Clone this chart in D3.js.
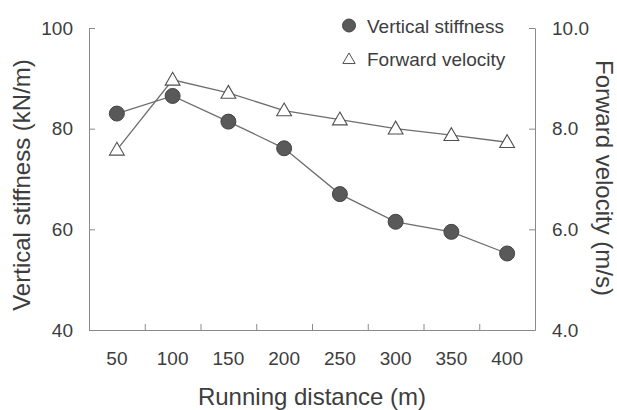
<!DOCTYPE html>
<html>
<head>
<meta charset="utf-8">
<script src="https://cdn.jsdelivr.net/npm/d3@7"></script>
<style>
  body { margin: 0; background: #fff; }
  svg text { font-family: 'Liberation Sans', Arial, sans-serif; fill: #3d3d3d; }
</style>
</head>
<body>
<div id="chart"></div>
<script>
const distances = ['50', '100', '150', '200', '250', '300', '350', '400'];
const stiffness = [83.0, 86.5, 81.4, 76.1, 67.0, 61.5, 59.5, 55.2];
const velocity = [7.58, 8.97, 8.71, 8.36, 8.18, 8.0, 7.87, 7.73];
const leftTicks = [40, 60, 80, 100];
const rightTicks = [4, 6, 8, 10];

const W = 617;
const H = 410;
const margin = { top: 28, right: 82, bottom: 80, left: 89 };
const width = W - margin.left - margin.right;
const height = H - margin.top - margin.bottom;
const axisColor = '#8a8a8a';

const svg = d3.select('#chart').append('svg')
  .attr('width', W)
  .attr('height', H);

const g = svg.append('g')
  .attr('transform', `translate(${margin.left},${margin.top})`);

const x = d3.scaleBand().domain(distances).range([0, width]);
const yL = d3.scaleLinear().domain([40, 100]).range([height, 0]);
const yR = d3.scaleLinear().domain([4, 10]).range([height, 0]);
const xc = d => x(d) + x.bandwidth() / 2;

// left axis
const left = g.append('g')
  .call(d3.axisLeft(yL).tickValues(leftTicks).tickSize(-6).tickSizeOuter(0).tickPadding(16));
// right axis
const right = g.append('g')
  .attr('transform', `translate(${width},0)`)
  .call(d3.axisRight(yR).tickValues(rightTicks).tickSize(-6).tickSizeOuter(0)
    .tickPadding(17).tickFormat(d3.format('.1f')));
// bottom axis labels
const bottom = g.append('g')
  .attr('transform', `translate(0,${height})`)
  .call(d3.axisBottom(x).tickSize(0).tickPadding(22));
// bottom ticks at band boundaries
const bounds = d3.scaleLinear().domain([0, distances.length]).range([0, width]);
const bticks = g.append('g')
  .attr('transform', `translate(0,${height})`)
  .call(d3.axisBottom(bounds).tickValues(d3.range(1, distances.length)).tickSize(-6)
    .tickSizeOuter(0).tickFormat(''));
bticks.select('.domain').remove();

[left, right, bottom, bticks].forEach((a) => {
  a.selectAll('.domain, line').attr('stroke', axisColor);
  a.selectAll('text')
    .style('font-size', '19px')
    .attr('fill', '#3d3d3d');
});

// stiffness series
const lineL = d3.line().x((d, i) => xc(distances[i])).y(d => yL(d));
g.append('path')
  .datum(stiffness)
  .attr('d', lineL)
  .attr('fill', 'none')
  .attr('stroke', '#6e6e6e')
  .attr('stroke-width', 1.3);

g.selectAll('.dot')
  .data(stiffness)
  .enter().append('circle')
  .attr('class', 'dot')
  .attr('cx', (d, i) => xc(distances[i]))
  .attr('cy', d => yL(d))
  .attr('r', 7.5)
  .attr('fill', '#595959')
  .attr('stroke', '#444')
  .attr('stroke-width', 1);

// velocity series
const lineR = d3.line().x((d, i) => xc(distances[i])).y(d => yR(d));
g.append('path')
  .datum(velocity)
  .attr('d', lineR)
  .attr('fill', 'none')
  .attr('stroke', '#6e6e6e')
  .attr('stroke-width', 1.3);

const tri = d3.symbol().type(d3.symbolTriangle).size(95);
g.selectAll('.tri')
  .data(velocity)
  .enter().append('path')
  .attr('class', 'tri')
  .attr('d', tri)
  .attr('transform', (d, i) => `translate(${xc(distances[i])},${yR(d) + 1})`)
  .attr('fill', '#fff')
  .attr('stroke', '#505050')
  .attr('stroke-width', 1.1);

// legend
const legend = svg.append('g').attr('transform', 'translate(349,0)');
legend.append('circle')
  .attr('cx', 0).attr('cy', 25.5).attr('r', 6.5)
  .attr('fill', '#595959').attr('stroke', '#444');
legend.append('path')
  .attr('d', d3.symbol().type(d3.symbolTriangle).size(65))
  .attr('transform', 'translate(0,60)')
  .attr('fill', '#fff').attr('stroke', '#505050').attr('stroke-width', 1);
legend.append('text').attr('x', 18).attr('y', 33).style('font-size', '19px').text('Vertical stiffness');
legend.append('text').attr('x', 18).attr('y', 66).style('font-size', '19px').text('Forward velocity');

// axis titles
svg.append('text')
  .attr('transform', `translate(30,${margin.top + height / 2 + 6}) rotate(-90)`)
  .attr('text-anchor', 'middle')
  .style('font-size', '24px')
  .text('Vertical stiffness (kN/m)');
svg.append('text')
  .attr('transform', `translate(596,${178}) rotate(90)`)
  .attr('text-anchor', 'middle')
  .style('font-size', '24px')
  .text('Forward velocity (m/s)');
svg.append('text')
  .attr('x', margin.left + width / 2)
  .attr('y', 405)
  .attr('text-anchor', 'middle')
  .style('font-size', '24px')
  .text('Running distance (m)');
</script>
</body>
</html>
